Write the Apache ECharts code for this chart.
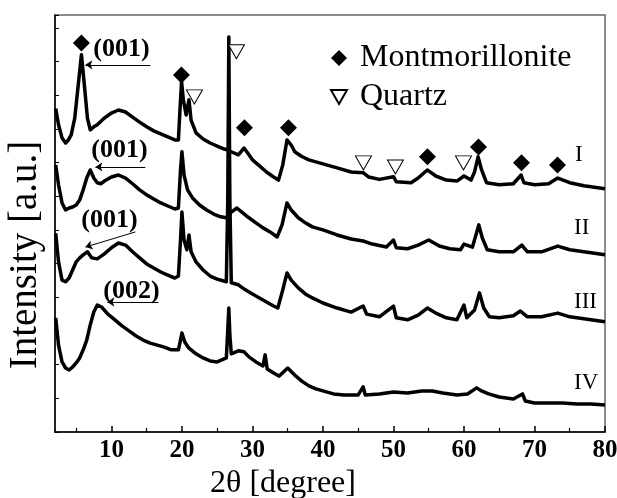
<!DOCTYPE html>
<html>
<head>
<meta charset="utf-8">
<script src="https://cdn.jsdelivr.net/npm/echarts@6/dist/echarts.min.js"></script>
<style>
html,body{margin:0;padding:0;background:#fff;}
#c{width:617px;height:498px;}
</style>
</head>
<body>
<div id="c"></div>
<script>
// ---- data (2theta [deg], intensity [a.u.]) ----
const traceI = [[2.1,960],[2.5,912],[3.0,873],[3.5,858],[3.9,867],[4.3,882],[4.8,932],[5.3,1031],[5.75,1120],[6.2,1022],[6.6,932],[7.0,897],[7.5,906],[8.0,912],[9.0,932],[10.0,947],[11.0,956],[12.0,950],[13.0,935],[14.0,920],[15.0,906],[16.0,894],[17.0,885],[18.0,876],[19.0,867],[19.5,867],[19.8,986],[19.95,1040],[20.2,986],[20.6,941],[21.0,986],[21.3,926],[22.0,888],[23.0,870],[24.0,858],[25.0,849],[26.0,840],[26.4,838],[27.0,832],[28.0,823],[28.8,843],[29.2,832],[30.0,808],[31.0,790],[32.0,772],[33.0,757],[33.7,748],[34.3,793],[34.9,867],[35.5,852],[36.0,832],[37.0,818],[38.0,808],[39.0,802],[40.0,796],[42.0,784],[44.0,772],[45.7,770],[46.5,757],[48.0,750],[50.0,758],[50.4,743],[52.5,740],[53.5,754],[54.8,778],[56.0,760],[57.5,748],[59.0,745],[60.0,760],[61.0,748],[61.5,772],[62.0,817],[62.5,778],[63.2,740],[65.0,734],[67.0,737],[68.1,763],[68.5,740],[70.0,734],[72.0,737],[73.3,754],[75.0,740],[77.0,731],[79.0,725],[80.0,722]];
const traceII = [[2.1,793],[2.5,734],[3.0,680],[3.5,659],[4.0,665],[4.5,668],[5.0,674],[5.5,689],[6.0,719],[6.5,754],[7.0,778],[7.5,754],[8.0,740],[8.5,737],[9.0,745],[10.0,757],[11.0,763],[12.0,754],[13.0,737],[14.0,719],[15.0,704],[16.0,692],[17.0,680],[18.0,671],[19.0,662],[19.5,665],[19.8,778],[20.0,832],[20.3,763],[20.8,719],[21.5,695],[22.5,674],[23.5,659],[24.5,647],[25.5,639],[26.3,636],[27.0,653],[27.8,665],[28.5,653],[29.5,636],[30.5,621],[31.5,606],[32.5,594],[33.5,579],[34.2,615],[34.9,680],[35.5,659],[36.5,636],[37.5,621],[38.5,609],[40.0,600],[42.0,585],[44.0,573],[45.7,567],[47.0,558],[49.0,549],[50.0,570],[50.4,547],[52.0,544],[53.5,555],[55.0,570],[56.5,552],[58.0,544],[59.5,541],[60.0,558],[61.2,549],[61.7,585],[62.1,615],[62.6,576],[63.3,541],[65.0,535],[67.0,535],[68.2,555],[69.0,535],[71.0,535],[73.3,552],[75.0,541],[77.0,535],[79.0,529],[80.0,526]];
const traceIII = [[2.1,590],[2.5,505],[3.0,451],[3.5,446],[4.0,457],[4.5,481],[5.0,505],[5.5,517],[6.0,526],[6.6,535],[7.2,517],[8.0,514],[9.0,529],[10.0,547],[11.0,561],[12.0,555],[13.0,535],[14.0,517],[15.0,499],[16.0,487],[17.0,475],[18.0,466],[19.0,457],[19.5,463],[19.8,570],[20.0,653],[20.3,570],[20.7,541],[21.0,585],[21.3,535],[22.0,505],[23.0,481],[24.0,463],[25.0,454],[26.3,446],[26.5,689],[26.65,1173],[26.8,689],[27.0,443],[28.0,437],[29.0,422],[30.0,410],[31.0,398],[32.0,386],[33.0,374],[33.6,368],[34.3,422],[34.9,472],[35.5,451],[36.5,428],[37.5,410],[38.5,398],[40.0,383],[42.0,368],[44.0,356],[45.7,374],[46.2,350],[48.0,342],[50.0,374],[50.4,339],[52.0,333],[53.5,347],[54.8,368],[56.0,353],[57.5,339],[59.0,333],[60.0,377],[60.4,339],[61.5,362],[62.2,413],[62.8,368],[63.6,342],[65.0,339],[67.0,345],[68.0,359],[69.0,342],[71.0,342],[73.3,353],[75.0,342],[77.0,336],[79.0,330],[80.0,327]];
const traceIV = [[2.1,339],[2.5,258],[3.0,208],[3.5,190],[4.0,184],[4.5,193],[5.0,205],[5.5,220],[6.0,244],[6.5,273],[7.0,318],[7.5,356],[8.0,377],[8.6,371],[9.5,350],[10.5,333],[11.5,315],[12.5,300],[13.5,285],[14.5,273],[15.5,264],[16.5,258],[17.5,252],[18.5,244],[19.5,244],[19.8,273],[20.0,294],[20.4,267],[21.0,249],[22.0,232],[23.0,220],[24.0,211],[25.0,208],[26.3,220],[26.5,303],[26.65,368],[26.8,288],[27.0,232],[28.0,241],[28.8,238],[29.5,223],[30.5,208],[31.5,196],[31.8,229],[32.1,187],[33.0,175],[33.8,166],[35.0,190],[36.0,169],[37.0,151],[38.0,137],[39.0,128],[40.0,122],[41.5,113],[43.0,110],[45.0,110],[45.7,134],[46.0,110],[48.0,113],[50.0,119],[52.0,116],[54.0,122],[55.5,122],[57.0,116],[59.0,110],[60.5,113],[61.8,131],[62.5,122],[63.5,113],[65.0,104],[67.0,98],[68.3,113],[68.7,92],[70.0,86],[72.0,86],[74.0,86],[76.0,83],[78.0,83],[80.0,80]];

const montmorillonitePeaks = [[5.74,1155],[19.93,1060],[28.87,903],[35.11,903],[54.82,817],[62.06,846],[68.16,799],[73.26,793]];
const quartzPeaks = [[21.77,995],[27.73,1129],[45.74,799],[50.28,787],[59.93,799]];

const traceNames = ['I','II','III','IV'];
const traceLabelPos = [[75.75,823],[75.6,606],[75.6,386],[75.6,146]];

const reflexTexts = ['(001)','(001)','(001)','(002)'];
const reflexTextPos = [[11.42,1135],[11.13,835],[9.72,630],[12.84,419]];
const reflexArrows = [
  [[15.53,1090],[6.31,1090]],
  [[14.82,787],[7.73,787]],
  [[13.40,594],[6.31,549]],
  [[16.67,386],[9.43,386]]
];

const xMajorTicks = [10,20,30,40,50,60,70,80];
const xMinorTicks = [5,15,25,35,45,55,65,75];

// ---- chart ----
const serif = "'Liberation Serif','Times New Roman',serif";
const chart = echarts.init(document.getElementById('c'), null, {renderer:'canvas'});

const lineSeries = [traceI, traceII, traceIII, traceIV].map((d, i) => ({
  type: 'line', name: 'trace' + traceNames[i], data: d, showSymbol: false,
  lineStyle: {color: '#000', width: 3.5, join: 'round'}, z: 2, silent: true
}));

function textSeries(name, positions, texts, font, align) {
  return {
    type: 'custom', name: name, silent: true, z: 6,
    data: positions.map((p, i) => [p[0], p[1], i]),
    encode: {x: 0, y: 1},
    renderItem: function (params, api) {
      const pt = api.coord([api.value(0), api.value(1)]);
      return {
        type: 'text', x: pt[0], y: pt[1],
        style: {text: texts[api.value(2)], font: font, fill: '#000', align: align, verticalAlign: 'middle'}
      };
    }
  };
}

const option = {
  animation: false,
  backgroundColor: '#fff',
  grid: {left: 55, right: 12, top: 15, bottom: 66, outerBoundsMode: 'none', containLabel: false,
         show: true, borderColor: '#666', borderWidth: 1.5, backgroundColor: 'transparent'},
  legend: {
    data: ['Montmorillonite', 'Quartz'],
    orient: 'vertical', left: 325, top: 37,
    itemWidth: 16, itemHeight: 16, itemGap: 7,
    textStyle: {fontFamily: serif, fontSize: 32, color: '#000', lineHeight: 30, padding: [0,0,0,8]},
    selectedMode: false
  },
  xAxis: [{
    type: 'value', min: 2, max: 80,
    name: '2\u03b8 [degree]', nameLocation: 'middle', nameGap: 33,
    nameTextStyle: {fontFamily: serif, fontSize: 32, color: '#000', padding: [0, 94, 0, 0]},
    axisLine: {show: true, lineStyle: {color: '#000', width: 1.5}},
    axisTick: {show: true, inside: true, length: 6, customValues: xMajorTicks, lineStyle: {color: '#000', width: 1.5}},
    axisLabel: {customValues: xMajorTicks, fontFamily: serif, fontWeight: 'bold', fontSize: 25, color: '#000', margin: 6},
    splitLine: {show: false}
  }, {
    type: 'value', min: 2, max: 80, position: 'bottom', gridIndex: 0,
    axisLine: {show: false},
    axisTick: {show: true, inside: true, length: 4, customValues: xMinorTicks, lineStyle: {color: '#000', width: 1.2}},
    axisLabel: {show: false}, splitLine: {show: false}
  }],
  yAxis: {
    type: 'value', min: 0, max: 1238, interval: 100,
    name: 'Intensity [a.u.]', nameLocation: 'middle', nameGap: 10,
    nameTextStyle: {fontFamily: serif, fontSize: 39, color: '#000', padding: [0, 63, 0, 0]},
    axisLine: {show: true, lineStyle: {color: '#000', width: 1.5}},
    axisTick: {show: true, inside: true, length: 4, lineStyle: {color: '#000', width: 1}},
    axisLabel: {show: false}, splitLine: {show: false}
  },
  series: [
    ...lineSeries,
    {
      type: 'scatter', name: 'Montmorillonite', data: montmorillonitePeaks,
      symbol: 'diamond', symbolSize: 17, itemStyle: {color: '#000', opacity: 1}, z: 5, silent: true
    },
    {
      type: 'scatter', name: 'Quartz', data: quartzPeaks,
      symbol: 'path://M0,0L16,0L8,14Z', symbolSize: [16, 14],
      itemStyle: {color: '#fff', borderColor: '#000', borderWidth: 1, opacity: 1}, z: 5, silent: true
    },
    textSeries('traceLabels', traceLabelPos, traceNames, "23px 'Liberation Serif', serif", 'left'),
    textSeries('reflexLabels', reflexTextPos, reflexTexts, "bold 26px 'Liberation Serif', serif", 'center'),
    {
      type: 'lines', coordinateSystem: 'cartesian2d', silent: true,
      symbol: ['none', 'arrow'], symbolSize: 7,
      lineStyle: {color: '#000', width: 1, opacity: 1},
      data: reflexArrows.map(c => ({coords: c})), z: 4
    }
  ]
};
chart.setOption(option);
</script>
</body>
</html>
